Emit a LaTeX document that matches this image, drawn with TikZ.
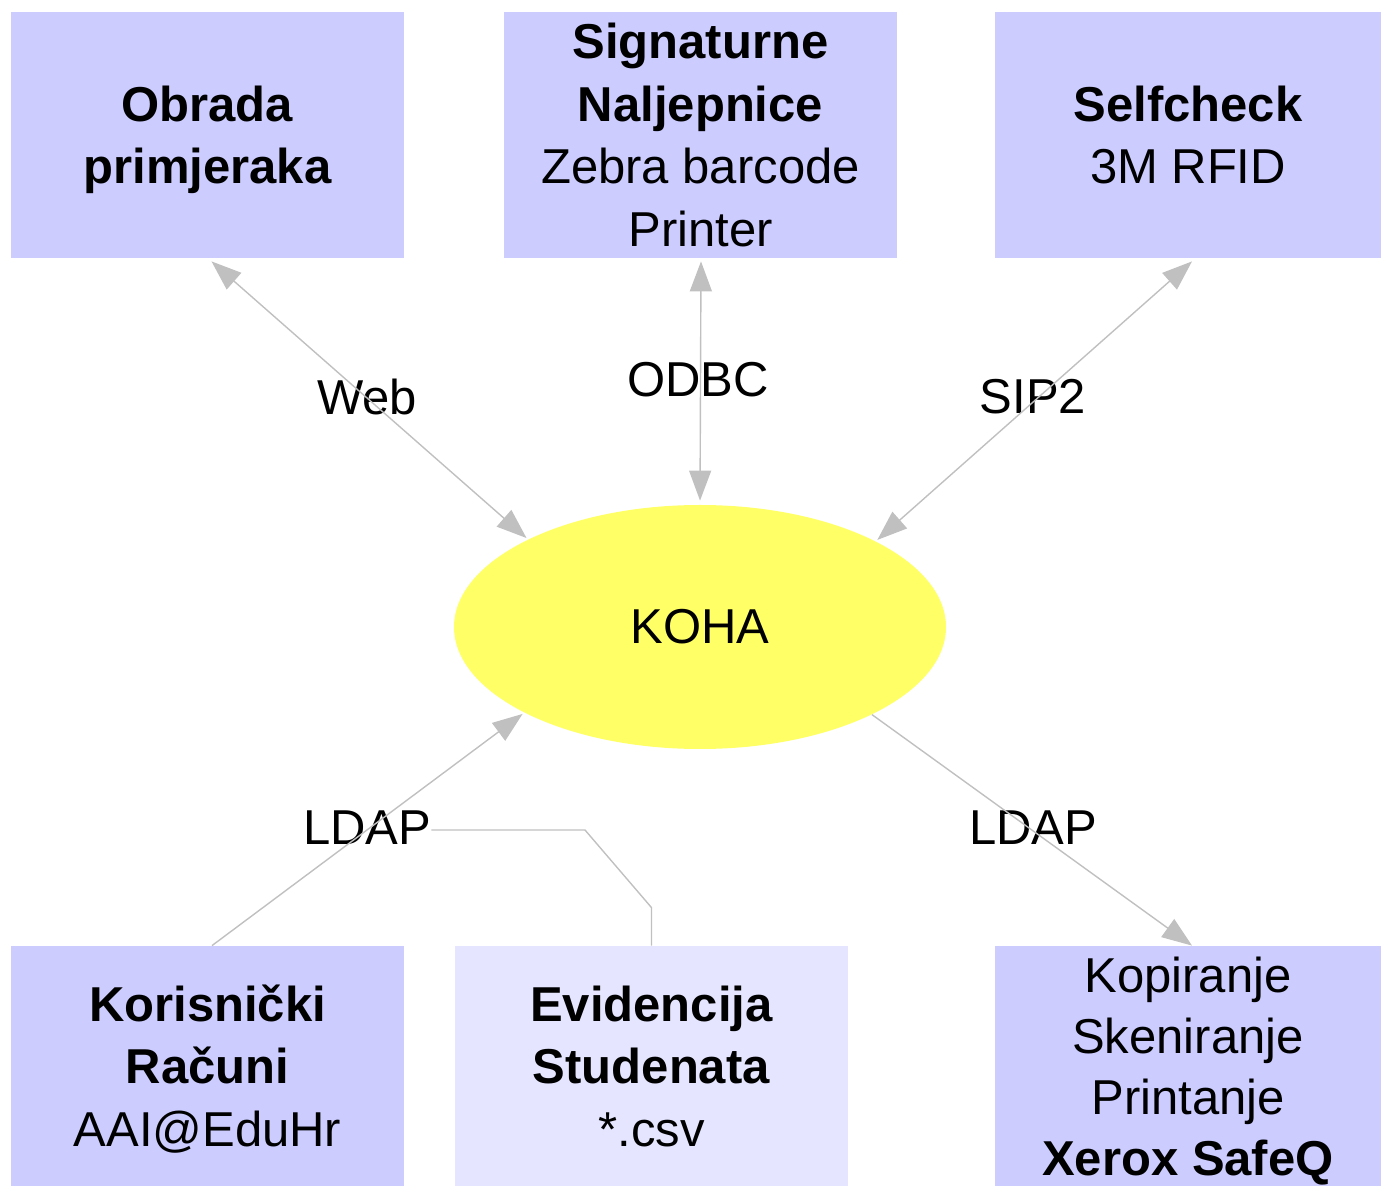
\documentclass[tikz,border=0pt]{standalone}
\usepackage{fontspec}
\setmainfont{Liberation Sans}
\usetikzlibrary{arrows.meta,shapes.geometric,calc}
\definecolor{boxblue}{HTML}{CCCCFF}
\definecolor{boxlight}{HTML}{E5E5FF}
\definecolor{kohay}{HTML}{FFFF66}
\definecolor{edgegray}{HTML}{C0C0C0}
\newcommand{\tstrut}{\rule[-6.8pt]{0pt}{31.2pt}}
\begin{document}
\begin{tikzpicture}[x=0.5pt,y=-0.5pt,
  box/.style={rectangle, fill=boxblue, minimum width=196.5pt, minimum height=123pt, inner sep=0pt},
  boxtext/.style={align=center, inner sep=0pt, font=\fontsize{24.5}{31.25}\selectfont},
  lbl/.style={inner sep=0pt, font=\fontsize{24.5}{30}\selectfont},
  conn/.style={draw=edgegray, line width=0.7pt},
  tipa/.tip={Triangle[length=15pt,width=11pt]}]
\useasboundingbox (0,0) rectangle (1381,1186);

\node[box] (obrada) at (207.5,135) {};
\node[boxtext] (obradat) at (obrada.center) {\tstrut\textbf{Obrada}\\\tstrut\textbf{primjeraka}};
\node[box] (sig) at (700.5,135) {};
\node[boxtext] (sigt) at (sig.center) {\tstrut\textbf{Signaturne}\\\textbf{Naljepnice}\\Zebra barcode\\\tstrut Printer};
\node[box, minimum width=193pt] (self) at (1188,135) {};
\node[boxtext] (selft) at (self.center) {\tstrut\textbf{Selfcheck}\\\tstrut 3M RFID};

\node[box, minimum height=120pt] (kor) at (207.5,1066) {};
\node[boxtext] (kort) at (kor.center) {\tstrut\textbf{Korisnički}\\\textbf{Računi}\\\tstrut AAI@EduHr};
\node[box, fill=boxlight, minimum height=120pt] (evid) at (651.5,1066) {};
\node[boxtext] (evidt) at (evid.center) {\tstrut\textbf{Evidencija}\\\textbf{Studenata}\\\tstrut *.csv};
\node[box, minimum width=193pt, minimum height=120pt] (kop) at (1188,1066) {};
\node[boxtext, font=\fontsize{24.5}{30.5}\selectfont] (kopt) at (kop.center) {\tstrut Kopiranje\\Skeniranje\\Printanje\\\tstrut\textbf{Xerox SafeQ}};

\node[ellipse, fill=kohay, minimum width=246pt, minimum height=122pt, inner sep=0pt, font=\fontsize{24.5}{30}\selectfont] (koha) at (700,627) {KOHA};

\node[lbl] (lweb) at (367,397) {Web};
\node[lbl] (lodbc) at (698,380) {ODBC};
\node[lbl] (lsip) at (1033,397) {SIP2};
\node[lbl] (lldapl) at (367,828) {LDAP};
\node[lbl] (lldapr) at (1033,828) {LDAP};

\draw[conn, tipa-tipa, shorten >=1pt] ($(obrada.south)+(4,3)$) -- (koha.153.6);
\draw[conn, tipa-tipa, shorten >=2pt] ($(sig.south)+(0.5,3)$) -- (koha.north);
\draw[conn, tipa-tipa, shorten >=1pt] ($(self.south)+(4,3)$) -- (koha.26.4);
\draw[conn, -tipa, shorten >=1pt] ($(kor.north)+(4.5,0)$) -- (koha.206.4);
\draw[conn, -tipa] (koha.333.6) -- ($(kop.north)+(4,0)$);
\draw[conn] (evid.north) -- ++(0,-38) -- (585,830) -- (lldapl.east |- 0,830);
\end{tikzpicture}
\end{document}
